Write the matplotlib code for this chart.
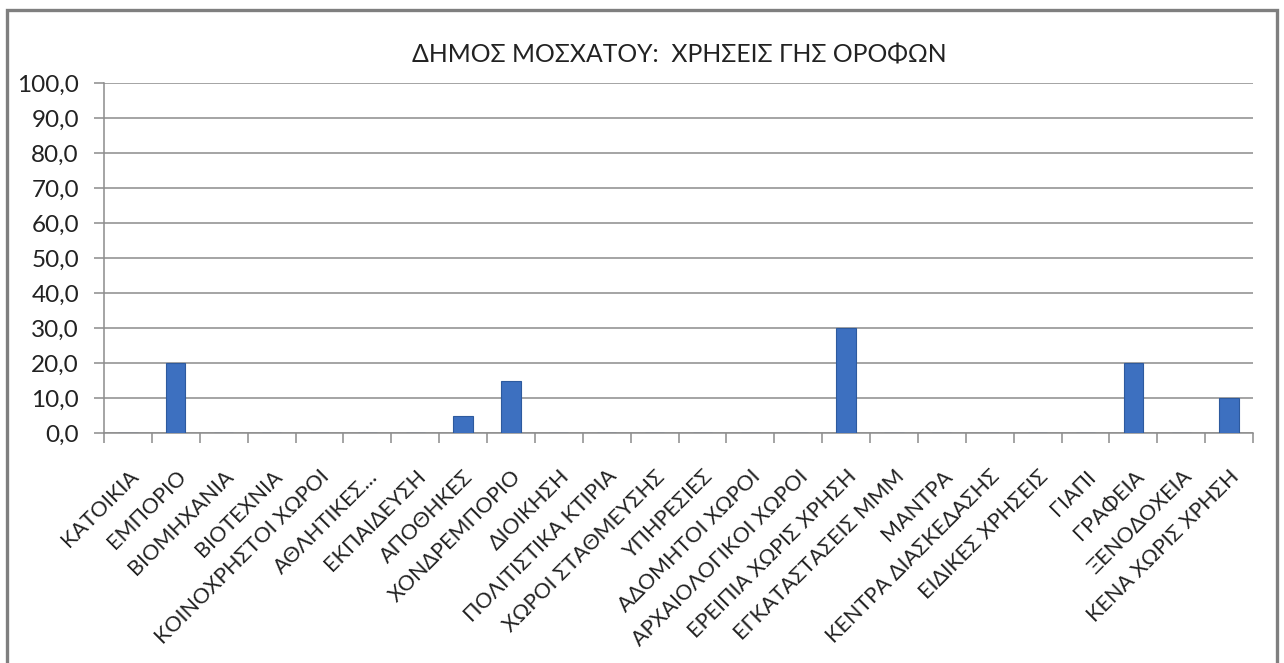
import matplotlib
matplotlib.use("Agg")
import matplotlib.pyplot as plt
from matplotlib.patches import Rectangle
from matplotlib.transforms import ScaledTranslation
import numpy as np

categories = [
    "ΚΑΤΟΙΚΙΑ", "ΕΜΠΟΡΙΟ", "ΒΙΟΜΗΧΑΝΙΑ", "ΒΙΟΤΕΧΝΙΑ", "ΚΟΙΝΟΧΡΗΣΤΟΙ ΧΩΡΟΙ",
    "ΑΘΛΗΤΙΚΕΣ...", "ΕΚΠΑΙΔΕΥΣΗ", "ΑΠΟΘΗΚΕΣ", "ΧΟΝΔΡΕΜΠΟΡΙΟ", "ΔΙΟΙΚΗΣΗ",
    "ΠΟΛΙΤΙΣΤΙΚΑ ΚΤΙΡΙΑ", "ΧΩΡΟΙ ΣΤΑΘΜΕΥΣΗΣ", "ΥΠΗΡΕΣΙΕΣ", "ΑΔΟΜΗΤΟΙ ΧΩΡΟΙ",
    "ΑΡΧΑΙΟΛΟΓΙΚΟΙ ΧΩΡΟΙ", "ΕΡΕΙΠΙΑ ΧΩΡΙΣ ΧΡΗΣΗ", "ΕΓΚΑΤΑΣΤΑΣΕΙΣ ΜΜΜ", "ΜΑΝΤΡΑ",
    "ΚΕΝΤΡΑ ΔΙΑΣΚΕΔΑΣΗΣ", "ΕΙΔΙΚΕΣ ΧΡΗΣΕΙΣ", "ΓΙΑΠΙ", "ΓΡΑΦΕΙΑ", "ΞΕΝΟΔΟΧΕΙΑ",
    "ΚΕΝΑ ΧΩΡΙΣ ΧΡΗΣΗ",
]
values = [0, 20, 0, 0, 0, 0, 0, 5, 15, 0, 0, 0, 0, 0, 0, 30, 0, 0, 0, 0, 0, 20, 0, 10]
y_ticks = [0, 10, 20, 30, 40, 50, 60, 70, 80, 90, 100]
y_tick_labels = ["0,0", "10,0", "20,0", "30,0", "40,0", "50,0", "60,0", "70,0", "80,0", "90,0", "100,0"]
title = "ΔΗΜΟΣ ΜΟΣΧΑΤΟΥ:  ΧΡΗΣΕΙΣ ΓΗΣ ΟΡΟΦΩΝ"

plt.rcParams['font.family'] = ['Lato', 'DejaVu Sans']

W, H = 1284, 663
fig = plt.figure(figsize=(W / 100, H / 100), dpi=100)
fig.patch.set_facecolor("white")

# outer chart frame
fig.patches.append(Rectangle((7 / W, -0.05), (1277 - 7) / W, 1.05 - 10 / H,
                             transform=fig.transFigure, fill=False,
                             edgecolor="#7f7f7f", linewidth=2.4))

ax = fig.add_axes([104 / W, 1 - 433 / H, (1253 - 104) / W, (433 - 83) / H])
x = np.arange(len(categories))
ax.bar(x, values, width=0.4, color="#3d70c0", edgecolor="#2d5a9e", linewidth=0.8, zorder=3)

ax.set_xlim(-0.5, len(categories) - 0.5)
ax.set_ylim(0, 100)
ax.set_yticks(y_ticks)
ax.set_yticklabels(y_tick_labels, fontsize=17.5, color="#222222")
ax.yaxis.grid(True, color="#8c8c8c", linewidth=1.1, zorder=0)
ax.set_axisbelow(True)

ax.set_xticks(x)
ax.set_xticklabels(categories, rotation=45, ha="right", va="top", rotation_mode="anchor",
                   fontsize=15.5, color="#222222")
shift = ScaledTranslation(1 / 100, 0, fig.dpi_scale_trans)
for lbl in ax.get_xticklabels():
    lbl.set_transform(lbl.get_transform() + shift)
ax.set_xticks(np.arange(-0.5, len(categories), 1.0), minor=True)
ax.tick_params(axis="x", which="major", length=0, pad=24)
ax.tick_params(axis="x", which="minor", length=7, color="#8c8c8c", width=1.1)
ax.tick_params(axis="y", length=7, color="#8c8c8c", width=1.1, pad=11)

for s in ["top", "right"]:
    ax.spines[s].set_visible(False)
for s in ["left", "bottom"]:
    ax.spines[s].set_color("#8c8c8c")
    ax.spines[s].set_linewidth(1.1)

fig.text(679 / W, 1 - 55 / H, title, ha="center", va="center", fontsize=17.8, color="#222222")

fig.savefig("out.png", dpi=100)
